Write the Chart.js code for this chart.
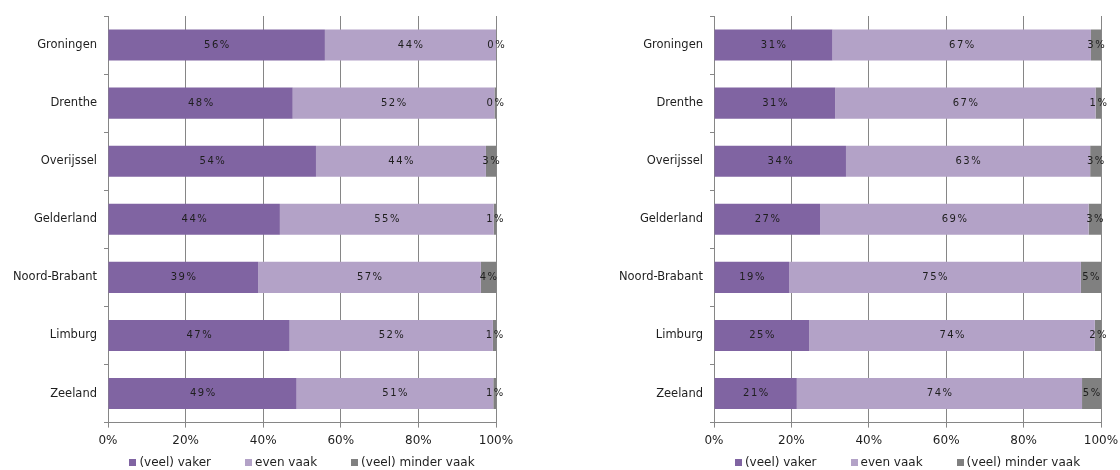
<!DOCTYPE html>
<html>
<head>
<meta charset="utf-8">
<script src="https://cdn.jsdelivr.net/npm/chart.js@4.4.1/dist/chart.umd.min.js"></script>
<style>
  body { margin: 0; background: #fff; }
  #wrap { position: relative; width: 1120px; height: 470px; }
  .panel { position: absolute; top: 0; width: 560px; height: 470px; }
  .legend { position: absolute; display: flex; justify-content: center; gap: 34px;
            font: 12px "DejaVu Sans", sans-serif; line-height: 14px; color: #1e1e1e; white-space: nowrap; }
  .legend .item { display: flex; align-items: center; }
  .legend .box { display: inline-block; width: 7px; height: 7px; margin-right: 3px; }
</style>
</head>
<body>
<div id="wrap">
  <div class="panel" style="left:0"><canvas id="left" width="560" height="470"></canvas></div>
  <div class="panel" style="left:560px"><canvas id="right" width="560" height="470"></canvas></div>
</div>
<script>
const regions = ['Groningen', 'Drenthe', 'Overijssel', 'Gelderland', 'Noord-Brabant', 'Limburg', 'Zeeland'];
const seriesNames = ['(veel) vaker', 'even vaak', '(veel) minder vaak'];
const seriesColors = ['#8064A2', '#B3A2C7', '#808080'];

// left panel
const leftVaker = [55.9, 47.6, 53.6, 44.3, 38.7, 46.8, 48.6];
const leftEven = [44.1, 52.0, 43.8, 55.1, 57.4, 52.4, 50.7];
const leftMinder = [0.0, 0.4, 2.6, 0.6, 3.9, 0.8, 0.7];

// right panel
const rightVaker = [30.6, 31.3, 34.1, 27.4, 19.4, 24.6, 21.4];
const rightEven = [66.8, 67.3, 63.1, 69.4, 75.4, 73.8, 73.7];
const rightMinder = [2.6, 1.4, 2.8, 3.2, 5.2, 1.6, 4.9];

const FONT = '"DejaVu Sans", Verdana, sans-serif';
const GRID = '#868686';

// percentage labels centred in every segment
const barLabels = {
  id: 'barLabels',
  afterDatasetsDraw(chart) {
    const ctx = chart.ctx;
    ctx.save();
    ctx.font = '10px ' + FONT;
    ctx.letterSpacing = '1.5px';
    ctx.fillStyle = '#1e1e1e';
    ctx.textAlign = 'center';
    ctx.textBaseline = 'middle';
    chart.data.datasets.forEach((ds, i) => {
      chart.getDatasetMeta(i).data.forEach((bar, j) => {
        const { x, y, base } = bar.getProps(['x', 'y', 'base'], true);
        ctx.fillText(Math.round(ds.data[j]) + '%', (x + base) / 2 + 0.75, y);
      });
    });
    ctx.restore();
  }
};

function makeChart(id, series, axisWidth, padRight) {
  const chart = new Chart(document.getElementById(id), {
    type: 'bar',
    data: {
      labels: regions,
      datasets: series.map((data, i) => ({
        label: seriesNames[i],
        data: data,
        backgroundColor: seriesColors[i],
        borderWidth: 0,
        barPercentage: 1,
        categoryPercentage: 0.535
      }))
    },
    options: {
      indexAxis: 'y',
      responsive: false,
      animation: false,
      layout: { padding: { top: 16, right: padRight, bottom: 16, left: 0 } },
      plugins: { legend: { display: false }, tooltip: { enabled: false } },
      scales: {
        x: {
          stacked: true,
          min: 0,
          max: 100,
          ticks: { stepSize: 20, callback: v => v + '%', color: '#1e1e1e', padding: 6, font: { family: FONT, size: 12 } },
          grid: { color: GRID, tickLength: 5 },
          border: { color: GRID },
          // let the "100%" label hang over the right edge instead of shrinking the plot
          afterFit: s => { s.paddingRight = 0; }
        },
        y: {
          stacked: true,
          ticks: { color: '#1e1e1e', padding: 7, font: { family: FONT, size: 11.5 } },
          grid: { drawOnChartArea: false, color: GRID, tickLength: 4, offset: true },
          border: { color: GRID },
          afterFit: s => { s.width = axisWidth; }
        }
      }
    },
    plugins: [barLabels]
  });

  // legend as html, centred under the plot area
  const area = chart.chartArea;
  const legend = document.createElement('div');
  legend.className = 'legend';
  legend.style.left = area.left + 'px';
  legend.style.width = (area.right - area.left) + 'px';
  legend.style.top = '455px';
  chart.data.datasets.forEach(ds => {
    const item = document.createElement('div');
    item.className = 'item';
    const box = document.createElement('span');
    box.className = 'box';
    box.style.background = ds.backgroundColor;
    item.appendChild(box);
    item.appendChild(document.createTextNode(ds.label));
    legend.appendChild(item);
  });
  chart.canvas.parentNode.appendChild(legend);
  return chart;
}

makeChart('left', [leftVaker, leftEven, leftMinder], 108, 64);
makeChart('right', [rightVaker, rightEven, rightMinder], 154, 19);
</script>
</body>
</html>
